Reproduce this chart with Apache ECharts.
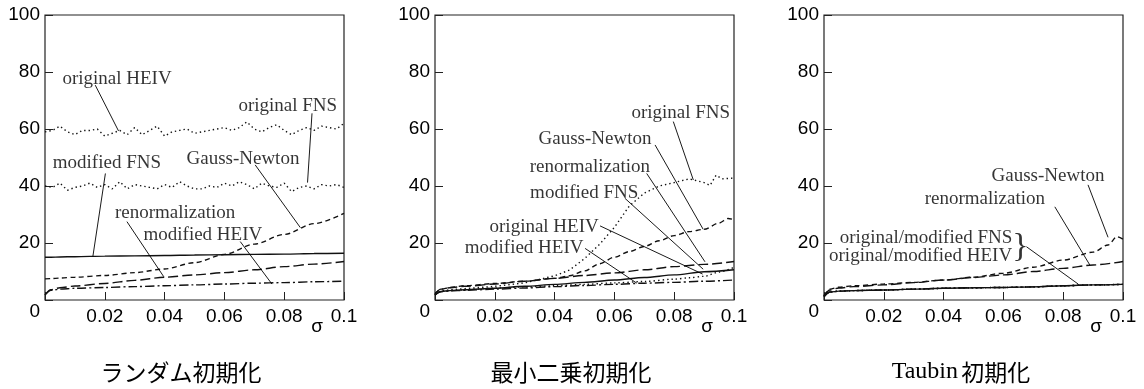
<!DOCTYPE html>
<html>
<head>
<meta charset="utf-8">
<script src="https://cdn.jsdelivr.net/npm/echarts@6/dist/echarts.min.js"></script>
<style>html,body{margin:0;padding:0;background:#fff;}#c{width:1144px;height:389px;}</style>
</head>
<body>
<div id="c"></div>
<script>
// ---------- data ----------
const xTicks = [0.02, 0.04, 0.06, 0.08, 0.1];
const yTicks = [0, 20, 40, 60, 80, 100];
const panelTitles = ['ランダム初期化', '最小二乗初期化', 'Taubin 初期化'];

const xs = [0, 0.002, 0.005, 0.01, 0.02, 0.03, 0.04, 0.05, 0.06, 0.07, 0.08, 0.09, 0.1];
const xsDotted = [0, 0.0025, 0.005, 0.0075, 0.01, 0.0125, 0.015, 0.0175, 0.02, 0.0225, 0.025, 0.0275, 0.03, 0.0325, 0.035, 0.0375, 0.04, 0.0425, 0.045, 0.0475, 0.05, 0.0525, 0.055, 0.0575, 0.06, 0.0625, 0.065, 0.0675, 0.07, 0.0725, 0.075, 0.0775, 0.08, 0.0825, 0.085, 0.0875, 0.09, 0.0925, 0.095, 0.0975, 0.1];

// Panel 1: random initialization
const p1OrigHEIV = [59.0, 59.5, 61.0, 59.0, 58.0, 59.5, 59.5, 60.0, 57.5, 58.5, 59.5, 58.0, 60.5, 58.0, 59.5, 61.0, 57.5, 59.0, 59.5, 60.0, 58.5, 59.0, 59.5, 60.0, 60.5, 59.5, 60.5, 62.5, 60.0, 59.0, 60.5, 61.5, 59.5, 58.0, 59.5, 60.5, 59.5, 61.0, 60.5, 60.0, 62.0];
const p1OrigFNS = [40.0, 39.5, 41.0, 38.5, 39.5, 40.0, 41.0, 39.5, 40.5, 39.0, 41.5, 39.0, 40.5, 40.0, 39.5, 39.0, 40.5, 39.5, 41.5, 40.0, 39.0, 39.0, 40.0, 39.5, 41.0, 40.0, 41.5, 40.5, 39.0, 41.0, 40.0, 39.5, 41.0, 38.0, 39.5, 40.0, 39.0, 40.5, 40.0, 40.5, 39.5];
const p1ModFNS = [15.0, 15.0, 15.1, 15.2, 15.4, 15.5, 15.6, 15.8, 15.9, 16.0, 16.1, 16.3, 16.4];
const p1GN = [7.4, 7.5, 7.7, 8.0, 8.6, 9.6, 10.9, 13.1, 16.0, 19.6, 23.0, 26.8, 30.4];
const p1Renorm = [1.8, 3.6, 4.3, 4.9, 5.8, 6.9, 8.0, 8.8, 9.6, 10.6, 11.7, 12.6, 13.5];
const p1ModHEIV = [1.8, 3.4, 3.8, 4.1, 4.4, 4.7, 5.0, 5.3, 5.6, 5.9, 6.1, 6.4, 6.6];

// Panel 2: least-squares initialization
const p2xFNS = [0, 0.002, 0.005, 0.01, 0.02, 0.03, 0.04, 0.045, 0.05, 0.055, 0.06, 0.065, 0.07, 0.075, 0.08, 0.085, 0.09, 0.092, 0.094, 0.096, 0.1];
const p2OrigFNS = [1.8, 3.2, 3.6, 4.0, 4.8, 6.0, 8.5, 10.5, 14.5, 19.5, 25.5, 33.0, 37.5, 40.0, 41.2, 42.5, 41.2, 40.2, 43.8, 42.5, 42.8];
const p2xGN = [0, 0.002, 0.005, 0.01, 0.02, 0.03, 0.04, 0.045, 0.05, 0.055, 0.06, 0.065, 0.07, 0.075, 0.08, 0.085, 0.09, 0.095, 0.098, 0.1];
const p2GN = [2.2, 3.8, 4.4, 5.0, 5.8, 6.6, 7.6, 8.5, 10.2, 12.7, 15.0, 17.0, 18.8, 20.8, 22.6, 24.0, 24.8, 27.0, 28.6, 28.2];
const p2Renorm = [2.2, 3.8, 4.3, 4.8, 5.6, 6.6, 7.6, 8.6, 9.5, 10.6, 11.7, 12.5, 13.5];
const p2ModFNS = [1.8, 3.0, 3.3, 3.6, 4.1, 4.8, 5.5, 6.2, 7.0, 7.9, 8.8, 9.9, 10.6];
const p2ModHEIV = [1.8, 2.9, 3.2, 3.4, 3.8, 4.2, 4.7, 5.1, 5.5, 5.9, 6.2, 6.6, 7.0];
const p2xHEIV = [0, 0.002, 0.005, 0.01, 0.02, 0.03, 0.04, 0.05, 0.06, 0.07, 0.08, 0.085, 0.09, 0.095, 0.1];
const p2OrigHEIV = [1.8, 3.0, 3.3, 3.6, 4.2, 4.6, 5.0, 5.5, 6.0, 6.5, 7.3, 7.8, 8.3, 9.8, 11.5];

// Panel 3: Taubin initialization
const p3xGN = [0, 0.002, 0.005, 0.01, 0.02, 0.03, 0.04, 0.05, 0.06, 0.07, 0.08, 0.09, 0.095, 0.098, 0.1];
const p3GN = [1.5, 3.8, 4.5, 5.0, 5.6, 6.2, 7.0, 8.0, 9.4, 11.5, 14.0, 16.8, 19.3, 22.2, 21.3];
const p3Renorm = [1.5, 3.5, 4.2, 4.7, 5.3, 6.1, 7.0, 7.9, 8.8, 10.0, 11.1, 12.3, 13.5];
const p3FNSHEIV = [1.2, 2.8, 3.1, 3.3, 3.5, 3.8, 4.1, 4.3, 4.4, 4.6, 5.0, 5.3, 5.5];

// annotations: [text, x, y] and arrows [x1, y1, x2, y2] in data units
const notes1 = [['original HEIV', 0.0241, 77.4], ['original FNS', 0.0812, 68.1], ['Gauss-Newton', 0.0662, 49.4], ['modified FNS', 0.0207, 48.0], ['renormalization', 0.0435, 30.4], ['modified HEIV', 0.0528, 22.8]];
const arrows1 = [[0.0168, 75.4, 0.0246, 59.3], [0.0893, 65.5, 0.0878, 41.2], [0.0703, 47.4, 0.0854, 25.4], [0.0202, 44.4, 0.0160, 15.2], [0.0274, 27.5, 0.0397, 8.2], [0.0653, 20.5, 0.0759, 5.6]];
const notes2 = [['original FNS', 0.0822, 65.7], ['Gauss-Newton', 0.0535, 56.4], ['renormalization', 0.0518, 46.8], ['modified FNS', 0.0499, 37.7], ['original HEIV', 0.0365, 25.7], ['modified HEIV', 0.0298, 18.1]];
const arrows2 = [[0.0797, 62.6, 0.0864, 42.1], [0.0736, 54.4, 0.0897, 24.8], [0.0708, 44.4, 0.0903, 13.4], [0.0635, 35.7, 0.0897, 10.8], [0.0552, 26.0, 0.0895, 9.1], [0.0502, 18.1, 0.0675, 5.9]];
const notes3 = [['Gauss-Newton', 0.0749, 43.5], ['renormalization', 0.0538, 35.3], ['original/modified FNS', 0.0341, 21.6], ['original/modified HEIV', 0.0323, 15.4]];
const brace3 = ['}', 0.0657, 18.6];
const arrows3 = [[0.0883, 40.4, 0.0950, 22.0], [0.0772, 32.7, 0.0889, 12.3], [0.0677, 18.7, 0.0850, 5.6]];

// ---------- chart ----------
const SANS = 'Liberation Sans, Arial, sans-serif';
const SERIF = 'Liberation Serif, Times New Roman, serif';
const INK = '#111';
const pair = (xa, ya) => xa.map((x, i) => [x, ya[i]]);
const DOT = [1.4, 3.0], GNDASH = [5, 3.5], RNDASH = [10, 4], DASHDOT = [9, 3, 2, 3];

const gridLefts = [45, 435, 824];
const grids = gridLefts.map(l => ({left: l, top: 15, width: 299, height: 285, show: true, borderColor: '#222', borderWidth: 1.2, backgroundColor: 'transparent'}));

// ticks drawn "inside" by shifting the tick axes 4px into the plot and pointing ticks outward
const TICK_IN = 4;
const tick = {show: true, inside: false, length: TICK_IN, lineStyle: {color: '#222', width: 1}};
const xAxes = [], yAxes = [];
gridLefts.forEach((l, g) => {
  xAxes.push({type: 'value', gridIndex: g, min: 0, max: 0.1, interval: 0.02, position: 'bottom', offset: -TICK_IN,
    axisLine: {show: false}, splitLine: {show: false}, axisTick: tick,
    axisLabel: {show: true, margin: 7 + TICK_IN, color: '#000', fontFamily: SANS, fontSize: 19,
      formatter: v => (Math.abs(v) < 1e-9 ? '' : String(+v.toFixed(2)))},
    name: 'σ', nameLocation: 'end', nameGap: -27,
    nameTextStyle: {color: '#000', fontFamily: SANS, fontSize: 19, align: 'center', verticalAlign: 'top', padding: [17 + TICK_IN, 0, 0, 0]}
  });
  xAxes.push({type: 'value', gridIndex: g, min: 0, max: 0.1, interval: 0.02, position: 'top', offset: -TICK_IN,
    axisLine: {show: false}, splitLine: {show: false}, axisLabel: {show: false}, axisTick: tick});
  yAxes.push({type: 'value', gridIndex: g, min: 0, max: 100, interval: 20, position: 'left', offset: -TICK_IN,
    axisLine: {show: false}, splitLine: {show: false}, axisTick: tick,
    axisLabel: {show: true, margin: 5 + TICK_IN, color: '#000', fontFamily: SANS, fontSize: 19,
      formatter: v => (v === 0 ? '{z|0}' : String(v)),
      rich: {z: {fontFamily: SANS, fontSize: 19, color: '#000', padding: [24, 0, 0, 0]}}}
  });
  yAxes.push({type: 'value', gridIndex: g, min: 0, max: 100, interval: 20, position: 'right', offset: -TICK_IN,
    axisLine: {show: false}, splitLine: {show: false}, axisLabel: {show: false}, axisTick: tick});
});

function line(g, name, data, type, smooth) {
  return {type: 'line', name, xAxisIndex: 2 * g, yAxisIndex: 2 * g, data, symbol: 'none', showSymbol: false,
    smooth: smooth ? 0.3 : false, smoothMonotone: 'x', animation: false, silent: true,
    lineStyle: {color: INK, width: 1.4, type: type}};
}
function notes(g, list, arrows) {
  return {type: 'scatter', xAxisIndex: 2 * g, yAxisIndex: 2 * g, symbolSize: 1, silent: true, animation: false,
    itemStyle: {color: 'rgba(0,0,0,0)'},
    label: {show: true, position: 'inside', formatter: '{b}', color: '#000', fontFamily: SERIF, fontSize: 19, textBorderWidth: 0},
    data: list.map(n => ({name: n[0], value: [n[1], n[2]]})),
    markLine: {silent: true, animation: false, symbol: ['none', 'arrow'], symbolSize: [0, 7], precision: 6,
      label: {show: false}, lineStyle: {color: '#000', width: 0.9, type: 'solid'},
      emphasis: {disabled: true},
      data: arrows.map(a => [{coord: [a[0], a[1]]}, {coord: [a[2], a[3]]}])}
  };
}

const series = [
  line(0, 'original HEIV', pair(xsDotted, p1OrigHEIV), DOT, false),
  line(0, 'original FNS', pair(xsDotted, p1OrigFNS), DOT, false),
  line(0, 'modified FNS', pair(xs, p1ModFNS), 'solid', true),
  line(0, 'Gauss-Newton', pair(xs, p1GN), GNDASH, true),
  line(0, 'renormalization', pair(xs, p1Renorm), RNDASH, true),
  line(0, 'modified HEIV', pair(xs, p1ModHEIV), DASHDOT, true),
  notes(0, notes1, arrows1),

  line(1, 'original FNS', pair(p2xFNS, p2OrigFNS), DOT, false),
  line(1, 'Gauss-Newton', pair(p2xGN, p2GN), GNDASH, true),
  line(1, 'renormalization', pair(xs, p2Renorm), RNDASH, true),
  line(1, 'modified FNS', pair(xs, p2ModFNS), 'solid', true),
  line(1, 'original HEIV', pair(p2xHEIV, p2OrigHEIV), DOT, true),
  line(1, 'modified HEIV', pair(xs, p2ModHEIV), DASHDOT, true),
  notes(1, notes2, arrows2),

  line(2, 'Gauss-Newton', pair(p3xGN, p3GN), GNDASH, true),
  line(2, 'renormalization', pair(xs, p3Renorm), RNDASH, true),
  line(2, 'original FNS', pair(xs, p3FNSHEIV), DOT, true),
  line(2, 'modified FNS', pair(xs, p3FNSHEIV), 'solid', true),
  line(2, 'original HEIV', pair(xs, p3FNSHEIV), DOT, true),
  line(2, 'modified HEIV', pair(xs, p3FNSHEIV), DASHDOT, true),
  notes(2, notes3, arrows3),
  {type: 'scatter', xAxisIndex: 4, yAxisIndex: 4, symbolSize: 1, silent: true, animation: false,
    itemStyle: {color: 'rgba(0,0,0,0)'},
    label: {show: true, position: 'inside', formatter: '{b}', color: '#000', fontFamily: SERIF, fontSize: 34, textBorderWidth: 0},
    data: [{name: brace3[0], value: [brace3[1], brace3[2]]}]}
];

const titleX = [181, 571, 961];
const graphic = [
  {type: 'text', x: titleX[0], y: 372, silent: true, style: {text: panelTitles[0], font: '23px "Noto Sans CJK JP", sans-serif', fill: '#000', align: 'center', verticalAlign: 'middle'}},
  {type: 'text', x: titleX[1], y: 372, silent: true, style: {text: panelTitles[1], font: '23px "Noto Sans CJK JP", sans-serif', fill: '#000', align: 'center', verticalAlign: 'middle'}},
  {type: 'text', x: titleX[2], y: 372, silent: true, style: {
    text: '{a|' + panelTitles[2].split(' ')[0] + '} {b|' + panelTitles[2].split(' ')[1] + '}',
    align: 'center', verticalAlign: 'middle', fill: '#000',
    rich: {a: {fontFamily: 'Liberation Serif', fontSize: 24, fill: '#000'}, b: {fontFamily: 'Noto Sans CJK JP', fontSize: 23, fill: '#000'}}}}
];

const chart = echarts.init(document.getElementById('c'), null, {renderer: 'canvas'});
chart.setOption({animation: false, backgroundColor: '#fff', grid: grids, xAxis: xAxes, yAxis: yAxes, series, graphic});
</script>
</body>
</html>
